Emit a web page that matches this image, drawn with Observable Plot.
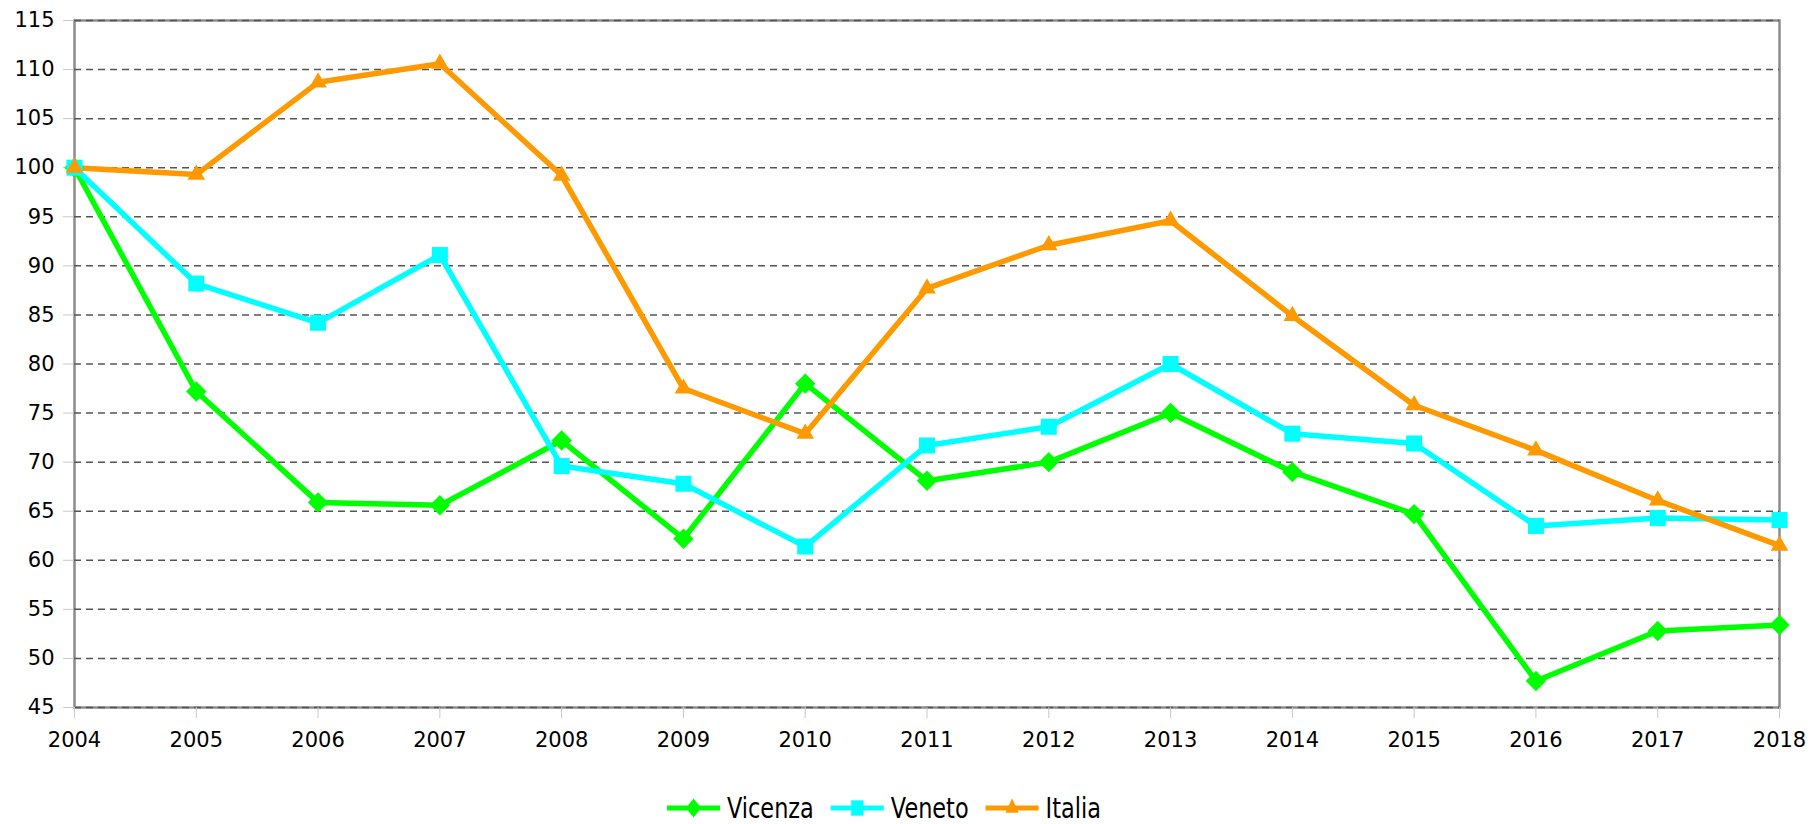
<!DOCTYPE html>
<html>
<head>
<meta charset="utf-8">
<script src="https://cdn.jsdelivr.net/npm/d3@7"></script>
<script src="https://cdn.jsdelivr.net/npm/@observablehq/plot@0.6"></script>
<style>
  html, body { margin: 0; padding: 0; background: #fff; }
  #wrap { position: relative; width: 1811px; height: 824px; font-family: "DejaVu Sans", Verdana, sans-serif; }
  #legend { position: absolute; left: 0; top: 770px; }
  #legend svg { display: block; overflow: visible; }
</style>
</head>
<body>
<div id="wrap"><div id="chart"></div><div id="legend"></div></div>
<script>
const years = [2004,2005,2006,2007,2008,2009,2010,2011,2012,2013,2014,2015,2016,2017,2018];
const vicenza = [100,77.2,65.9,65.6,72.2,62.2,78.0,68.1,70.0,75.0,69.0,64.7,47.7,52.8,53.4];
const veneto  = [100,88.2,84.2,91.1,69.6,67.8,61.4,71.7,73.6,80.0,72.9,71.9,63.5,64.3,64.1];
const italia  = [100,99.3,108.7,110.6,99.2,77.5,72.9,87.7,92.1,94.6,84.9,75.8,71.2,66.1,61.5];
const seriesNames = ["Vicenza","Veneto","Italia"];
const seriesColors = ["#00ff00","#00ffff","#ff9900"];
const seriesSymbols = ["diamond2","square2","triangle2"];
const yTicks = [45,50,55,60,65,70,75,80,85,90,95,100,105,110,115];

const seriesValues = [vicenza, veneto, italia];
const data = [];
seriesNames.forEach((name, i) => years.forEach((yr, j) => data.push({series: name, year: yr, value: seriesValues[i][j]})));

const symbolR = {"Vicenza": 9.2, "Veneto": 10.2, "Italia": 8.4};

const chart = Plot.plot({
  width: 1811,
  height: 770,
  marginLeft: 74,
  marginRight: 32,
  marginTop: 20,
  marginBottom: 63,
  style: {fontFamily: "DejaVu Sans, Verdana, sans-serif", fontSize: "21px", color: "#000", background: "#fff"},
  x: {domain: [2004, 2018]},
  y: {domain: [45, 115]},
  color: {domain: seriesNames, range: seriesColors},
  symbol: {domain: seriesNames, range: seriesSymbols},
  marks: [
    Plot.frame({stroke: "#8c8c8c", strokeWidth: 2.5}),
    Plot.ruleY(yTicks, {stroke: "#555", strokeDasharray: "7,5", strokeWidth: 1.5}),
    Plot.axisY({ticks: yTicks, tickSize: 11, tickPadding: 9, stroke: "#c8c8c8", fill: "#000", label: null, tickFormat: d => String(d)}),
    Plot.axisX({ticks: years, tickSize: 11, tickPadding: 14, stroke: "#c8c8c8", fill: "#000", label: null, tickFormat: d => String(d)}),
    Plot.line(data, {x: "year", y: "value", z: "series", stroke: "series", strokeWidth: 5.5, strokeLinejoin: "miter"}),
    ...seriesNames.map(name => Plot.dot(data.filter(d => d.series === name), {
      x: "year", y: "value", symbol: "series", fill: "series", stroke: "none", r: symbolR[name]
    }))
  ]
});
document.getElementById("chart").appendChild(chart);

// Legend
const lg = d3.select("#legend").append("svg").attr("width", 1811).attr("height", 54);
const cy = 38;
let cursor = 667;
const legendSymbols = [d3.symbolDiamond2, d3.symbolSquare2, d3.symbolTriangle2];
const legendSizes = [230, 300, 200];
const sx = 0.8;
seriesNames.forEach((name, i) => {
  const g = lg.append("g").attr("transform", `translate(${cursor},0)`);
  g.append("line").attr("x1", 0).attr("x2", 53).attr("y1", cy).attr("y2", cy)
    .attr("stroke", seriesColors[i]).attr("stroke-width", 5);
  g.append("path").attr("d", d3.symbol(legendSymbols[i], legendSizes[i])())
    .attr("transform", `translate(26.5,${cy}) scale(${sx},1)`).attr("fill", seriesColors[i]);
  const t = g.append("text").attr("transform", `translate(60,${cy}) scale(${sx},1)`)
    .attr("dy", "0.36em")
    .attr("font-family", "DejaVu Sans, Verdana, sans-serif").attr("font-size", 28).attr("fill", "#000")
    .text(name);
  const w = t.node().getComputedTextLength() * sx;
  cursor += 60 + w + 17;
});
</script>
</body>
</html>
